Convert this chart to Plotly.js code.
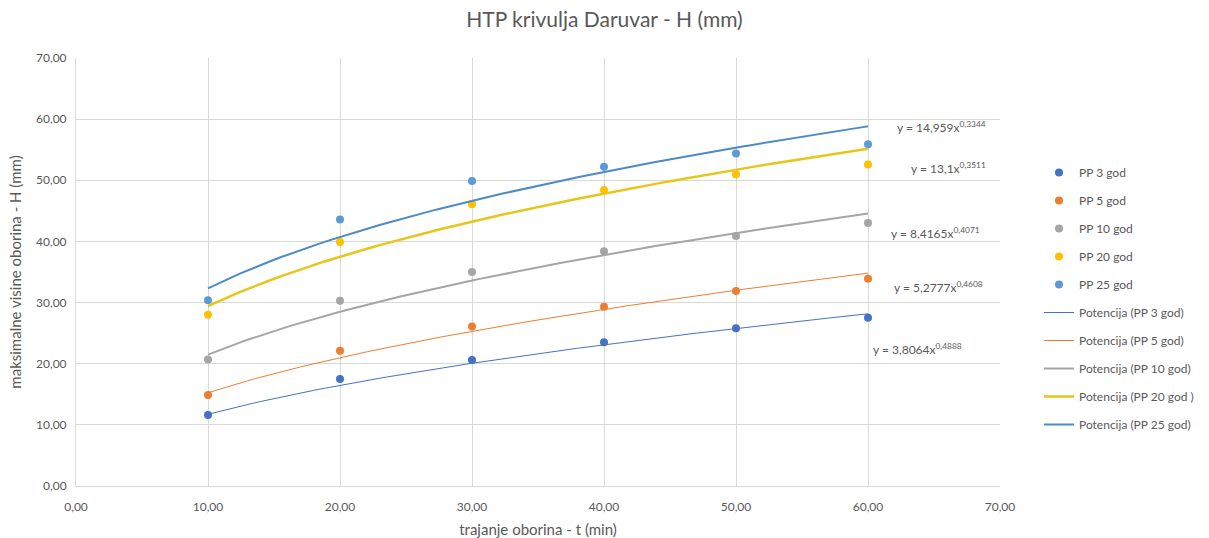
<!DOCTYPE html>
<html><head><meta charset="utf-8">
<script src="https://cdn.plot.ly/plotly-3.0.1.min.js"></script>
<style>html,body{margin:0;padding:0;background:#fff}#chart{width:1209px;height:538px}</style>
</head><body><div id="chart"></div>
<script>
const durations = [10, 20, 30, 40, 50, 60];
const pp3 = [11.6, 17.5, 20.6, 23.5, 25.8, 27.5];
const pp5 = [14.9, 22.1, 26.1, 29.3, 31.9, 33.9];
const pp10 = [20.7, 30.3, 35.0, 38.4, 40.9, 43.0];
const pp20 = [28.0, 39.9, 46.1, 48.4, 51.0, 52.6];
const pp25 = [30.4, 43.6, 49.9, 52.2, 54.4, 55.9];
const seriesNames = ['PP 3 god', 'PP 5 god', 'PP 10 god', 'PP 20 god', 'PP 25 god'];
const trendNames = ['Potencija (PP 3 god)', 'Potencija (PP 5 god)', 'Potencija (PP 10 god)', 'Potencija (PP 20 god )', 'Potencija (PP 25 god)'];
// power trendline coefficients as displayed in the chart: y = a * x^b
const coefA = [3.8064, 5.2777, 8.4165, 13.1, 14.959];
const coefB = [0.4888, 0.4608, 0.4071, 0.3511, 0.3344];
const eqLabels = ['y = 3,8064x<sup>0,4888</sup>', 'y = 5,2777x<sup>0,4608</sup>', 'y = 8,4165x<sup>0,4071</sup>', 'y = 13,1x<sup>0,3511</sup>', 'y = 14,959x<sup>0,3344</sup>'];

const series = [pp3, pp5, pp10, pp20, pp25];
const colors = ['#4472C4', '#ED7D31', '#A5A5A5', '#FFC000', '#5B9BD5'];
const trendColors = ['#4472C4', '#ED7D31', '#A5A5A5', '#E6C619', '#4C8BC4'];
const trendWidths = [1, 1, 2, 2.5, 2];
const font = 'Lato, "Open Sans", sans-serif';

const traces = [];
series.forEach((s, i) => {
  traces.push({x: durations, y: s, type: 'scatter', mode: 'markers', name: seriesNames[i],
    legendgroup: 'm' + i, marker: {color: colors[i], size: 8}});
});
const tx = [];
for (let t = 10; t <= 60; t += 0.5) tx.push(t);
series.forEach((s, i) => {
  traces.push({x: tx, y: tx.map(t => coefA[i] * Math.pow(t, coefB[i])), type: 'scatter', mode: 'lines',
    name: trendNames[i], legendgroup: 't' + i, line: {color: trendColors[i], width: trendWidths[i]}});
});

const eqPos = [[917, 349], [938, 287], [935, 233], [948, 168], [941, 127]];
const annotations = eqLabels.map((t, i) => ({
  xref: 'paper', yref: 'paper',
  x: (eqPos[i][0] - 76) / 924, y: (486 - eqPos[i][1]) / 428,
  text: t, showarrow: false, xanchor: 'center', yanchor: 'middle',
  font: {family: font, size: 12, color: '#595959'}
}));

const layout = {
  width: 1209, height: 538,
  margin: {l: 76, r: 209, t: 58, b: 52, autoexpand: false},
  paper_bgcolor: '#fff', plot_bgcolor: '#fff',
  separators: ', ',
  font: {family: font, color: '#595959', size: 12},
  title: {text: 'HTP krivulja Daruvar - H (mm)', x: 0.5, xanchor: 'center', xref: 'container', y: 0.963, yanchor: 'middle',
    font: {family: font, size: 21, color: '#595959'}},
  xaxis: {range: [0, 70], dtick: 10, tick0: 0, tickformat: '.2f', showgrid: true, gridcolor: '#D9D9D9',
    zeroline: false, showline: true, linecolor: '#D9D9D9', ticks: '', ticklabelstandoff: 10,
    title: {text: 'trajanje oborina - t (min)', font: {family: font, size: 15, color: '#595959'}, standoff: 12},
    tickfont: {family: font, size: 12, color: '#595959'}, fixedrange: true, automargin: false},
  yaxis: {range: [0, 70], dtick: 10, tick0: 0, tickformat: '.2f', showgrid: true, gridcolor: '#D9D9D9',
    zeroline: false, showline: true, linecolor: '#D9D9D9', ticks: '', ticklabelstandoff: 6,
    title: {text: 'maksimalne visine oborina - H (mm)', font: {family: font, size: 15, color: '#595959'}, standoff: 10},
    tickfont: {family: font, size: 12, color: '#595959'}, fixedrange: true, automargin: false},
  legend: {xref: 'container', yref: 'container', x: 1039 / 1209, y: (538 - 158) / 538, xanchor: 'left', yanchor: 'top', tracegroupgap: 9,
    maxheight: 400,
    font: {family: font, size: 12, color: '#595959'}, bgcolor: 'rgba(0,0,0,0)', itemwidth: 30},
  annotations: annotations,
  showlegend: true
};
Plotly.newPlot('chart', traces, layout, {displayModeBar: false, staticPlot: true});
</script></body></html>
